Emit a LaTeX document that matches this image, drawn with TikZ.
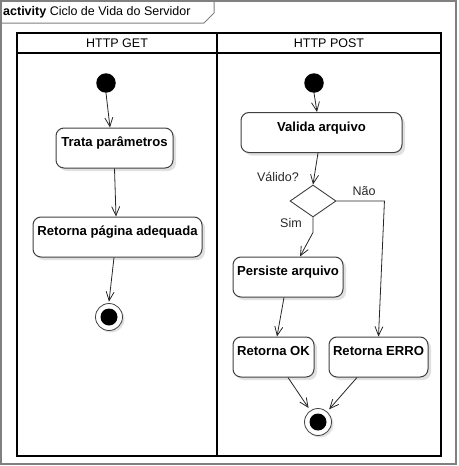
\documentclass[tikz,border=0pt]{standalone}
\usepackage{fontspec}
\setmainfont{Liberation Sans}
\usepackage{tikz}
\usetikzlibrary{shapes.geometric, arrows.meta, positioning, shadows}
\newcommand{\tamanho}{\fontsize{12.5}{15}\selectfont}
\newcommand{\tamanhob}{\fontsize{13.1}{15}\selectfont}
\tikzstyle{acao} = [rectangle, rounded corners=8pt, draw=black!75, line width=1pt, fill=white, minimum height=40pt, text height=18.5pt, text depth=21.5pt, inner ysep=0pt, text centered, font=\bfseries\tamanhob, drop shadow={shadow xshift=3pt, shadow yshift=-3pt, opacity=0.12, fill=black}]
\tikzstyle{inicio} = [circle, fill=black, minimum size=19.5pt, inner sep=0pt]
\tikzstyle{fim} = [circle, draw=black!75, line width=0.8pt, fill=white, minimum size=27pt, inner sep=0pt, drop shadow={shadow xshift=2pt, shadow yshift=-2pt, opacity=0.12, fill=black}, path picture={\fill[black] (path picture bounding box.center) circle (8.5pt);}]
\tikzstyle{decisao} = [diamond, draw=black!75, line width=0.9pt, fill=white, minimum width=46pt, minimum height=32pt, inner sep=0pt]
\tikzstyle{arrow} = [draw=black!85, line width=0.8pt, -{Straight Barb[length=9pt, width=8pt]}]
\tikzstyle{rotulo} = [inner sep=0pt, text=black!85, font=\tamanho]
\tikzstyle{raia} = [line width=2pt, draw=black]

\begin{document}
\begin{tikzpicture}[x=1pt, y=-1pt]
        \useasboundingbox (0,0) rectangle (458,466);
        % moldura e aba do titulo
        \draw[line width=2pt, draw=black!50] (1,1) rectangle (456,464);
        \draw[line width=1pt, draw=black!50] (1,1) -- (214,1) -- (214,13) -- (204,23) -- (1,23);
        \node (titulo) [rotulo, text=black, anchor=west] at (3,12) {\textbf{activity} Ciclo de Vida do Servidor};

        % raias
        \draw[raia] (17,33) rectangle (441,456);
        \draw[raia] (17,53) -- (441,53);
        \draw[raia] (217,33) -- (217,456);
        \node (get) [rotulo, text=black] at (117,43) {HTTP GET};
        \node (post) [rotulo, text=black] at (329,43) {HTTP POST};

        % HTTP GET
        \node (ini1) [inicio] at (106,83) {};
        \node (trata) [acao, minimum width=117pt] at (114.5,148) {Trata parâmetros};
        \node (retorna) [acao, minimum width=169pt] at (117.5,237) {Retorna página adequada};
        \node (fim1) [fim] at (109,317) {};

        \draw[arrow] (ini1.south) -- ([xshift=-4.5pt]trata.north);
        \draw[arrow] (trata.south) -- ([xshift=-1.5pt]retorna.north);
        \draw[arrow] ([xshift=-3.5pt]retorna.south) -- ([yshift=1.5pt]fim1.north);

        % HTTP POST
        \node (ini2) [inicio] at (314,83) {};
        \node (valida) [acao, minimum width=161pt] at (321.5,132.5) {Valida arquivo};
        \node (dec) [decisao] at (313,201) {};
        \node (pers) [acao, minimum width=110pt] at (288,277) {Persiste arquivo};
        \node (ok) [acao, minimum width=81pt] at (273.5,357) {Retorna OK};
        \node (erro) [acao, minimum width=99pt] at (378.5,357) {Retorna ERRO};
        \node (fim2) [fim] at (318,422) {};

        \node (valido) [rotulo] at (278,177) {Válido?};
        \node (sim) [rotulo] at (291,223) {Sim};
        \node (nao) [rotulo] at (364,191) {Não};

        \draw[arrow] (ini2.south) -- ([xshift=-4.5pt]valida.north);
        \draw[arrow] ([xshift=-3.5pt]valida.south) -- (dec.north);
        \draw[arrow] (dec.south) -- ++(0,15) -- ([xshift=12pt]pers.north);
        \draw[arrow] (dec.east) -- ++(48,0) -- (erro.north);
        \draw[arrow] ([xshift=-4pt]pers.south) -- ([xshift=3.5pt]ok.north);
        \draw[arrow, shorten >=3pt] ([xshift=14.5pt]ok.south) -- (fim2);
        \draw[arrow, shorten >=3pt] ([xshift=-21.5pt]erro.south) -- (fim2);
    \end{tikzpicture}
\end{document}
